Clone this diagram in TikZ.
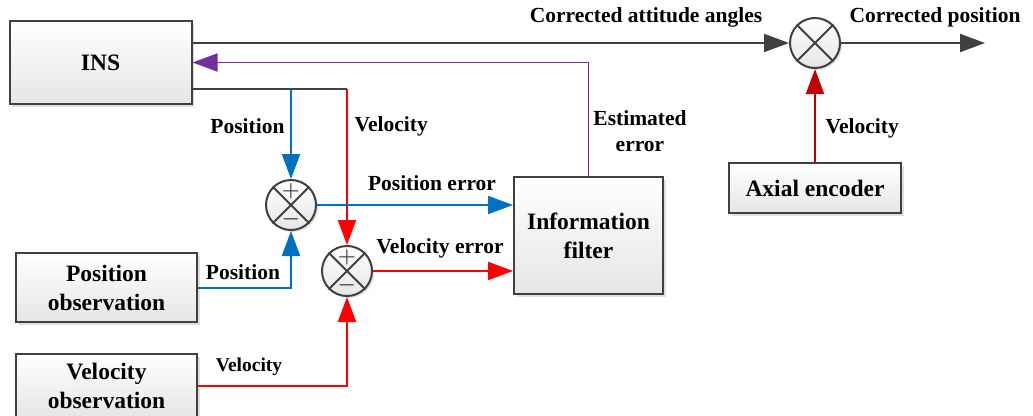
\documentclass[tikz,border=0pt]{standalone}
\usepackage{fontspec}
\setmainfont{Liberation Serif}
\usetikzlibrary{arrows.meta,shadows,calc}
\definecolor{lineblue}{RGB}{0,112,192}
\definecolor{linered}{RGB}{255,0,0}
\definecolor{encred}{RGB}{192,0,0}
\definecolor{fbpurple}{RGB}{112,48,160}
\definecolor{edgegray}{RGB}{64,64,64}

\begin{document}
\begin{tikzpicture}[x=1pt,y=-1pt,
    every node/.style={font=\fontsize{21.5}{26}\selectfont\bfseries},
    block/.style={draw=edgegray,line width=2pt,top color=white,bottom color=gray!20,
      drop shadow={shadow xshift=2.5pt,shadow yshift=-2.5pt,opacity=0.25},
      align=center,inner sep=0pt,font=\fontsize{23.5}{29}\selectfont\bfseries},
    summer/.style={circle,draw=edgegray,line width=2pt,top color=white,bottom color=gray!20,
      drop shadow={shadow xshift=2pt,shadow yshift=-2pt,opacity=0.25},
      minimum size=50pt,inner sep=0pt},
    sign/.style={text=edgegray,inner sep=0pt,font=\fontsize{20}{20}\selectfont\boldmath},
    sig/.style={line width=2pt,-{Triangle[length=25pt,width=18pt]}}]
    \useasboundingbox (0,0) rectangle (1033,415);

    % Blocks
    \node[block,minimum width=182pt,minimum height=83pt] (ins) at (100.5,62.5) {INS};
    \node[block,minimum width=149pt,minimum height=117pt] (filt) at (588.5,235.5) {Information\\filter};
    \node[block,minimum width=172pt,minimum height=50pt] (enc) at (815,188) {Axial encoder};
    \node[block,minimum width=181pt,minimum height=69pt] (posobs) at (106.5,287.5) {Position\\observation};
    \node[block,minimum width=181pt,minimum height=64pt] (velobs) at (106.5,386) {Velocity\\observation};

    % Summing junctions
    \node[summer] (sp) at (291,205) {};
    \node[summer] (sv) at (347,271) {};
    \node[summer] (mul) at (815,43) {};
    \foreach \s in {sp,sv,mul}
      \draw[edgegray,line width=2pt] (\s.45) -- (\s.225) (\s.135) -- (\s.315);
    \node[sign] (spplus) at ($(sp.center)+(0,-14)$) {$+$};
    \node[sign] (spminus) at ($(sp.center)+(0,14)$) {$-$};
    \node[sign] (svplus) at ($(sv.center)+(0,-14)$) {$+$};
    \node[sign] (svminus) at ($(sv.center)+(0,14)$) {$-$};

    % Attitude output
    \coordinate (out) at (985,43);
    \draw[sig,edgegray] (ins.east |- mul.west) -- (mul.west);
    \draw[sig,edgegray] (mul.east) -- (out);
    \node (attlab) at (646,17) {Corrected attitude angles};
    \node (poslab) at (935,17) {Corrected position};
    \draw[sig,encred] (enc.north) -- (mul.south);
    \node[right] (enclab) at (822,128) {Velocity};

    % Feedback
    \draw[sig,fbpurple,line width=1.8pt] (filt.north) |- (ins.east);
    \node[align=center] (estlab) at (640,131) {Estimated\\error};

    % INS outputs
    \coordinate (ib) at (191.5,89);
    \draw[edgegray,line width=2pt] (ib) -- (ib -| sv);
    \draw[sig,lineblue] (ib -| sp) -- (sp.north);
    \draw[sig,linered] (ib -| sv) -- (sv.north);
    \node[left] (inspos) at (288,126) {Position};
    \node[right] (insvel) at (351,126) {Velocity};

    % Observations
    \draw[sig,lineblue] (posobs.east) -| (sp.south);
    \node (obspos) at (243,272) {Position};
    \draw[sig,linered] (velobs.east) -| (sv.south);
    \node[font=\fontsize{19.5}{24}\selectfont\bfseries] (obsvel) at (249,367) {Velocity};

    % Errors to filter
    \draw[sig,lineblue] (sp.east) -- (sp.east -| filt.west);
    \node (perr) at (432,183) {Position error};
    \draw[sig,linered] (sv.east) -- (sv.east -| filt.west);
    \node (verr) at (440,248) {Velocity error};
  \end{tikzpicture}
\end{document}
